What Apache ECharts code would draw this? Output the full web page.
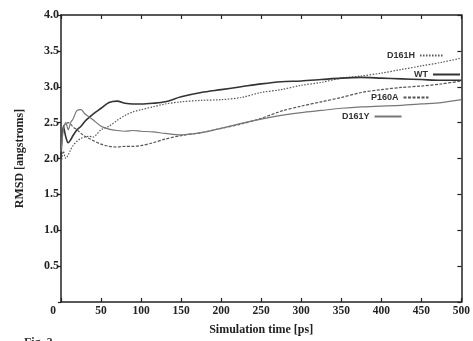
<!DOCTYPE html>
<html>
<head>
<meta charset="utf-8">
<script src="https://cdn.jsdelivr.net/npm/echarts@6/dist/echarts.min.js"></script>
<style>html,body{margin:0;padding:0;background:#fff}#c{width:473px;height:341px}</style>
</head>
<body>
<div id="c"></div>
<script>
var times = [0,3,6,9,12,15,20,25,30,35,40,50,60,70,80,90,100,115,130,150,175,200,225,250,275,300,325,350,375,400,425,450,475,500];
var wt    = [2.00,2.45,2.30,2.22,2.26,2.32,2.40,2.45,2.52,2.57,2.62,2.70,2.78,2.80,2.77,2.76,2.76,2.77,2.79,2.86,2.92,2.96,3.00,3.04,3.07,3.08,3.10,3.12,3.13,3.12,3.11,3.10,3.09,3.09];
var d161h = [1.90,2.10,2.00,2.05,2.12,2.18,2.24,2.28,2.30,2.31,2.30,2.40,2.45,2.53,2.60,2.65,2.68,2.72,2.76,2.79,2.81,2.82,2.85,2.92,2.96,3.02,3.06,3.12,3.15,3.19,3.24,3.29,3.34,3.40];
var d161y = [2.10,2.40,2.50,2.40,2.50,2.55,2.67,2.68,2.62,2.58,2.54,2.45,2.41,2.39,2.38,2.39,2.38,2.37,2.35,2.33,2.36,2.42,2.49,2.55,2.60,2.64,2.67,2.70,2.72,2.73,2.74,2.76,2.78,2.82];
var p160a = [2.20,2.45,2.48,2.50,2.48,2.44,2.40,2.35,2.31,2.28,2.25,2.20,2.17,2.16,2.17,2.17,2.18,2.22,2.27,2.32,2.36,2.42,2.48,2.56,2.66,2.73,2.79,2.85,2.92,2.96,2.99,3.01,3.04,3.08];
var xTicks = [0,50,100,150,200,250,300,350,400,450,500];
var yTicks = [0.5,1.0,1.5,2.0,2.5,3.0,3.5,4.0];

function pairs(v){ return times.map(function(t,i){ return [t, v[i]]; }); }

var serif = '"Liberation Serif", "DejaVu Serif", serif';
var sans = '"Liberation Sans", Arial, sans-serif';
var chart = echarts.init(document.getElementById('c'), null, {renderer:'canvas'});

function legendAt(name, left, top, w){
  return {
    data:[name], left:left, top:top, align:'right', orient:'horizontal',
    itemWidth:w, itemHeight:6, itemGap:0, padding:0,
    itemStyle:{opacity:0},
    textStyle:{fontFamily:sans, fontSize:9, fontWeight:'bold', color:'#333', padding:[0,0,0,0]},
    inactiveColor:'#333'
  };
}

chart.setOption({
  animation:false,
  backgroundColor:'#fff',
  grid:{left:61, right:11, top:15, bottom:36, containLabel:false},
  legend:[
    legendAt('D161H', 387, 51, 24),
    legendAt('WT', 414, 70, 27),
    legendAt('P160A', 371, 93, 25),
    legendAt('D161Y', 342, 112, 27)
  ],
  xAxis:[{
    type:'value', min:0, max:500, interval:50,
    name:'Simulation time [ps]', nameLocation:'middle', nameGap:22,
    nameTextStyle:{fontFamily:serif, fontSize:12, fontWeight:'bold', color:'#222'},
    axisLine:{show:true, onZero:false, lineStyle:{color:'#222', width:1.5}},
    axisTick:{show:true, inside:true, length:4, lineStyle:{color:'#222', width:1.2}},
    axisLabel:{fontFamily:serif, fontSize:11.5, fontWeight:'bold', color:'#222', margin:3,
      formatter:function(v){ return v===0 ? '{z|0}' : String(v); },
      rich:{z:{fontFamily:serif, fontSize:11.5, fontWeight:'bold', color:'#222', padding:[0,16,0,0]}}},
    splitLine:{show:false}
  },{
    type:'value', position:'top', min:0, max:500, interval:50,
    axisLine:{show:true, onZero:false, lineStyle:{color:'#222', width:1.5}},
    axisTick:{show:true, inside:true, length:4, lineStyle:{color:'#222', width:1.2}},
    axisLabel:{show:false}, splitLine:{show:false}
  }],
  yAxis:[{
    type:'value', min:0, max:4, interval:0.5,
    name:'RMSD [angstroms]', nameLocation:'middle', nameGap:35, nameRotate:90,
    nameTextStyle:{fontFamily:serif, fontSize:12, fontWeight:'bold', color:'#222'},
    axisLine:{show:true, onZero:false, lineStyle:{color:'#222', width:1.5}},
    axisTick:{show:true, inside:false, length:3, lineStyle:{color:'#222', width:1.2}},
    axisLabel:{fontFamily:serif, fontSize:12, fontWeight:'bold', color:'#222', margin:2,
      formatter:function(v){ return v===0 ? '' : v.toFixed(1); }},
    splitLine:{show:false}
  },{
    type:'value', position:'right', min:0, max:4, interval:0.5,
    axisLine:{show:true, onZero:false, lineStyle:{color:'#222', width:1.5}},
    axisTick:{show:true, inside:true, length:4, lineStyle:{color:'#222', width:1.2}},
    axisLabel:{show:false}, splitLine:{show:false}
  }],
  series:[
    {name:'D161H', type:'line', data:pairs(d161h), symbol:'none', smooth:0.3,
     lineStyle:{color:'#555', width:1.2, type:[1.5,1.5]}, itemStyle:{color:'#555'}},
    {name:'WT', type:'line', data:pairs(wt), symbol:'none', smooth:0.3,
     lineStyle:{color:'#333', width:1.6, type:'solid'}, itemStyle:{color:'#333'}},
    {name:'P160A', type:'line', data:pairs(p160a), symbol:'none', smooth:0.3,
     lineStyle:{color:'#555', width:1.2, type:[3,1.5]}, itemStyle:{color:'#555'}},
    {name:'D161Y', type:'line', data:pairs(d161y), symbol:'none', smooth:0.3,
     lineStyle:{color:'#777', width:1.2, type:'solid'}, itemStyle:{color:'#777'}}
  ],
  graphic:[{type:'text', left:24, top:337, style:{text:'Fig. 3', fontFamily:serif, fontSize:12, fontWeight:'bold', fill:'#333'}}]
});
</script>
</body>
</html>
